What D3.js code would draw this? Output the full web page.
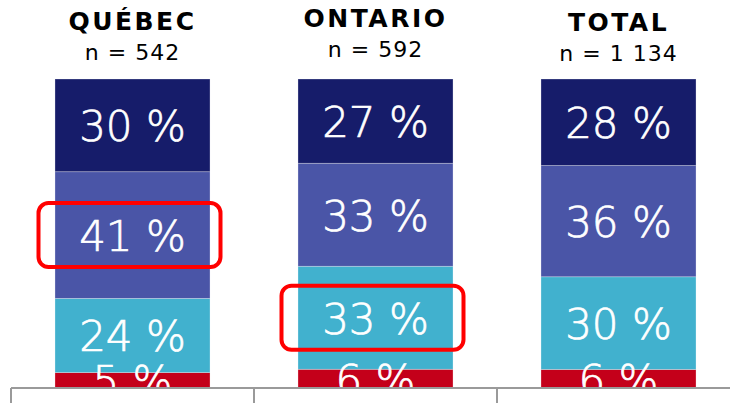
<!DOCTYPE html>
<html>
<head>
<meta charset="utf-8">
<script src="https://cdn.jsdelivr.net/npm/d3@7"></script>
<style>
  html, body { margin: 0; padding: 0; background: #ffffff; }
  svg { display: block; }
</style>
</head>
<body>
<svg id="chart" width="730" height="403"></svg>
<script>
// ---- data ----
const categories = ["QUÉBEC", "ONTARIO", "TOTAL"];
const sampleSizes = ["n = 542", "n = 592", "n = 1 134"];
const seriesKeys = ["s4", "s3", "s2", "s1"]; // bottom to top
const s4Values = [5, 6, 6];     // red
const s3Values = [24, 33, 30];  // teal
const s2Values = [41, 33, 36];  // purple
const s1Values = [30, 27, 28];  // navy
const highlights = [
  { category: "QUÉBEC", key: "s2" },
  { category: "ONTARIO", key: "s3" }
];

// ---- layout ----
const W = 730, H = 403;
const axisY = 388, topY = 79;
const colors = { s4: "#c4001a", s3: "#41b1ce", s2: "#4a55a7", s1: "#161c6a" };

const rows = categories.map((c, i) => ({
  category: c,
  s4: s4Values[i], s3: s3Values[i], s2: s2Values[i], s1: s1Values[i]
}));

const stack = d3.stack().keys(seriesKeys).offset(d3.stackOffsetExpand);
const layers = stack(rows);

const pi = 0.362;
const x = d3.scaleBand().domain(categories).range([11, 740])
  .paddingInner(pi).paddingOuter(pi / 2);
const y = d3.scaleLinear().domain([0, 1]).range([axisY, topY]);

const svg = d3.select("#chart");

svg.append("defs").append("clipPath").attr("id", "plot")
  .append("rect").attr("x", 0).attr("y", 0).attr("width", W).attr("height", axisY);

const plot = svg.append("g").attr("clip-path", "url(#plot)");

// bars
layers.forEach(layer => {
  plot.append("g").selectAll("rect").data(layer).join("rect")
    .attr("x", d => x(d.data.category))
    .attr("width", x.bandwidth())
    .attr("y", d => y(d[1]))
    .attr("height", d => y(d[0]) - y(d[1]))
    .attr("fill", colors[layer.key])
    .attr("stroke", "rgba(255,255,255,0.35)")
    .attr("stroke-width", 0.8);
});

// value labels
layers.forEach(layer => {
  plot.append("g").selectAll("text").data(layer).join("text")
    .attr("x", d => x(d.data.category) + x.bandwidth() / 2)
    .attr("y", d => (y(d[0]) + y(d[1])) / 2)
    .attr("dy", "0.38em")
    .attr("text-anchor", "middle")
    .attr("font-family", "DejaVu Sans, sans-serif")
    .attr("font-weight", 200)
    .attr("font-size", 42)
    .attr("fill", "#ffffff")
    .attr("stroke", "#ffffff")
    .attr("stroke-width", 0.7)
    .text(d => d.data[layer.key] + " %");
});

// highlight boxes
highlights.forEach(h => {
  const layer = layers.find(l => l.key === h.key);
  const d = layer.find(e => e.data.category === h.category);
  const cx = x(h.category) + x.bandwidth() / 2 - 3;
  const cy = (y(d[0]) + y(d[1])) / 2;
  const bw = 182, bh = 64;
  svg.append("rect")
    .attr("x", cx - bw / 2).attr("y", cy - bh / 2)
    .attr("width", bw).attr("height", bh)
    .attr("rx", 10).attr("ry", 10)
    .attr("fill", "none")
    .attr("stroke", "#ff0000")
    .attr("stroke-width", 4);
});

// titles
const titleY = [30, 27, 31];
const nY = [60, 57, 61];
svg.append("g").selectAll("text").data(categories).join("text")
  .attr("x", d => x(d) + x.bandwidth() / 2)
  .attr("y", (d, i) => titleY[i])
  .attr("text-anchor", "middle")
  .attr("font-family", "DejaVu Sans, sans-serif")
  .attr("font-weight", "bold")
  .attr("font-size", 25)
  .attr("letter-spacing", 2.5)
  .attr("fill", "#000000")
  .text(d => d);

svg.append("g").selectAll("text").data(sampleSizes).join("text")
  .attr("x", (d, i) => x(categories[i]) + x.bandwidth() / 2)
  .attr("y", (d, i) => nY[i])
  .attr("text-anchor", "middle")
  .attr("font-family", "DejaVu Sans, sans-serif")
  .attr("font-size", 22)
  .attr("letter-spacing", 1)
  .attr("fill", "#000000")
  .text(d => d);

// axis / table lines
const step = x.step();
const axisG = svg.append("g");
axisG.append("line")
  .attr("x1", x(categories[0]) - step * pi / 2).attr("x2", W)
  .attr("y1", axisY).attr("y2", axisY)
  .attr("stroke", "#9a9a9a").attr("stroke-width", 2);
axisG.selectAll("line.tick").data(categories).join("line")
  .attr("class", "tick")
  .attr("x1", d => x(d) - step * pi / 2).attr("x2", d => x(d) - step * pi / 2)
  .attr("y1", axisY).attr("y2", H)
  .attr("stroke", "#9a9a9a").attr("stroke-width", 2);
</script>
</body>
</html>
